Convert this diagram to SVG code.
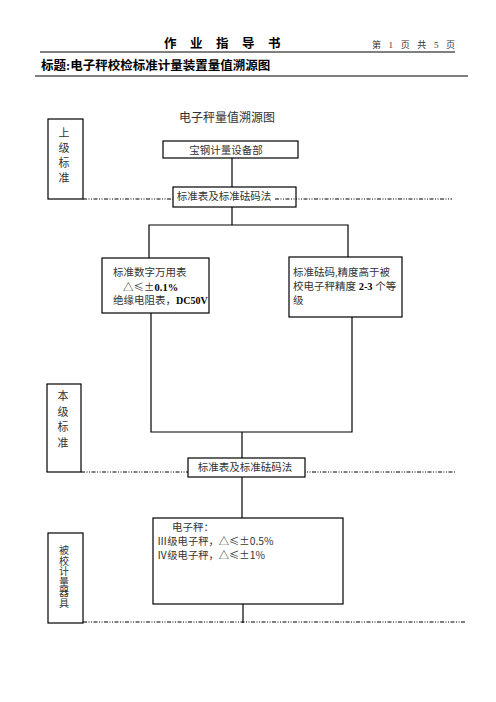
<svg xmlns="http://www.w3.org/2000/svg" width="496" height="702" viewBox="0 0 496 702">
<style>
.t{font-family:"Liberation Serif","Noto Sans CJK SC",serif;fill:#333}
.c{font-family:"Noto Sans CJK SC","Liberation Serif",sans-serif;fill:#333}
.b{font-family:"Liberation Serif","Noto Sans CJK SC",serif;fill:#000;font-weight:bold}
.box{fill:none;stroke:#000;stroke-width:1.2}
.wbox{fill:#fff;stroke:#000;stroke-width:1.2}
.ln{stroke:#000;stroke-width:1.2;fill:none}
.dash{stroke:#000;stroke-width:1;stroke-dasharray:4 1.5 1 1.5 1 1.5;fill:none}
</style>
<rect width="496" height="702" fill="#fff"/>
<g id="header">
<text class="b" font-size="12.5" x="164 190 216 242 268" y="48">作业指导书</text>
<text class="t" font-size="9" x="372" y="48" textLength="83" lengthAdjust="spacing">第 1 页 共 5 页</text>
<line x1="40" y1="52" x2="455" y2="52" stroke="#000" stroke-width="1"/>
<text class="b" font-size="12.5" x="41" y="70">标题:电子秤校检标准计量装置量值溯源图</text>
<line x1="35" y1="76" x2="468" y2="76" stroke="#000" stroke-width="1"/>
<text class="t" font-size="12" x="227" y="122" text-anchor="middle">电子秤量值溯源图</text>
</g>
<g id="connectors">
<line class="dash" x1="83" y1="199" x2="452" y2="199"/>
<line class="dash" x1="81" y1="472" x2="455" y2="472"/>
<line class="dash" x1="83" y1="622" x2="465" y2="622"/>
<line class="ln" x1="232" y1="158" x2="232" y2="187"/>
<line class="ln" x1="232" y1="207" x2="232" y2="225"/>
<polyline class="ln" points="149,258 149,225 348,225 348,257"/>
<polyline class="ln" points="151,313 151,432 352,432 352,317"/>
<line class="ln" x1="242" y1="432" x2="242" y2="458"/>
<line class="ln" x1="242" y1="477" x2="242" y2="518"/>
<line class="ln" x1="243" y1="604" x2="243" y2="623"/>
</g>
<g id="level-upper">
<rect class="box" x="48" y="119" width="35" height="80"/>
<text class="t" font-size="11" text-anchor="middle"><tspan x="64" y="137">上</tspan><tspan x="64" y="152">级</tspan><tspan x="64" y="167">标</tspan><tspan x="64" y="182">准</tspan></text>
</g>
<g id="baogang">
<rect class="box" x="163" y="141" width="135" height="17"/>
<text class="t" font-size="10.5" x="226" y="154" text-anchor="middle">宝钢计量设备部</text>
</g>
<g id="method-1">
<rect class="wbox" x="173" y="187" width="123" height="20"/>
<line class="dash" x1="275" y1="199" x2="296" y2="199"/>
<text class="t" font-size="10.5" x="224" y="200" text-anchor="middle">标准表及标准砝码法</text>
</g>
<g id="meters">
<rect class="box" x="102" y="258" width="107" height="55"/>
<text class="t" font-size="10.5" x="113" y="276">标准数字万用表</text>
<text class="c" font-size="10.5" x="123" y="291">△≤±<tspan class="b">0.1%</tspan></text>
<text class="t" font-size="10.5" x="113" y="304">绝缘电阻表，<tspan class="b" font-size="10">DC50V</tspan></text>
</g>
<g id="weights">
<rect class="box" x="289" y="257" width="113" height="60"/>
<text class="t" font-size="10.5" x="293" y="276">标准砝码,精度高于被</text>
<text class="t" font-size="10.5" x="293" y="290">校电子秤精度 <tspan class="b">2-3</tspan> 个等</text>
<text class="t" font-size="10.5" x="293" y="304">级</text>
</g>
<g id="level-this">
<rect class="box" x="47" y="384" width="34" height="88"/>
<text class="t" font-size="11" text-anchor="middle"><tspan x="63" y="400">本</tspan><tspan x="63" y="416">级</tspan><tspan x="63" y="431">标</tspan><tspan x="63" y="447">准</tspan></text>
</g>
<g id="method-2">
<rect class="wbox" x="188" y="458" width="117" height="19"/>
<text class="t" font-size="10.5" x="245" y="471" text-anchor="middle">标准表及标准砝码法</text>
</g>
<g id="scales">
<rect class="box" x="153" y="518" width="190" height="86"/>
<text class="t" font-size="10.5" x="172" y="531">电子秤：</text>
<text class="c" font-size="10.3" x="157" y="545">Ⅲ级电子秤，△≤±0.5%</text>
<text class="c" font-size="10.3" x="157" y="559">Ⅳ级电子秤，△≤±1%</text>
</g>
<g id="level-tested">
<rect class="box" x="48" y="533" width="35" height="90"/>
<text class="t" font-size="10" text-anchor="middle"><tspan x="64" y="554">被</tspan><tspan x="64" y="564.5">校</tspan><tspan x="64" y="575">计</tspan><tspan x="64" y="585.5">量</tspan><tspan x="64" y="596">器</tspan><tspan x="64" y="606.5">具</tspan></text>
</g>
</svg>
